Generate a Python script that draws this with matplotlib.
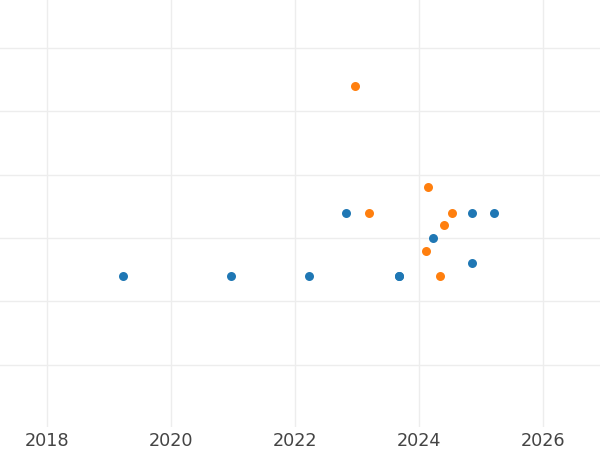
import matplotlib.pyplot as plt

blue_x = [2019.23, 2020.97, 2022.23, 2022.82, 2023.68, 2023.68, 2024.23, 2024.86, 2024.86, 2025.21]
blue_y = [2, 2, 2, 7, 2, 2, 5, 7, 3, 7]
orange_x = [2022.97, 2023.19, 2024.15, 2024.11, 2024.34, 2024.40, 2024.53]
orange_y = [17, 7, 9, 4, 2, 6, 7]
xticks = [2018, 2020, 2022, 2024, 2026]
yticks = [-5, 0, 5, 10, 15, 20]

fig = plt.figure(figsize=(6, 4.5), dpi=100)
ax = fig.add_axes([0, 0.051, 1, 0.949])
ax.scatter(blue_x, blue_y, s=42, color="#1f77b4", zorder=3, linewidths=0)
ax.scatter(orange_x, orange_y, s=42, color="#ff7f0e", zorder=3, linewidths=0)

ax.set_xlim(2017.242, 2026.919)
ax.set_ylim(-9.94, 23.8)
ax.set_xticks(xticks)
ax.set_xticklabels([str(t) for t in xticks])
ax.set_yticks(yticks)
ax.set_yticklabels([])
ax.tick_params(axis="both", length=0, labelsize=12.7, labelcolor="#444444", pad=3.5)
ax.grid(True, color="#ededed", linewidth=1.0)
ax.set_axisbelow(True)
for s in ax.spines.values():
    s.set_visible(False)

fig.savefig("out.png", dpi=100)
